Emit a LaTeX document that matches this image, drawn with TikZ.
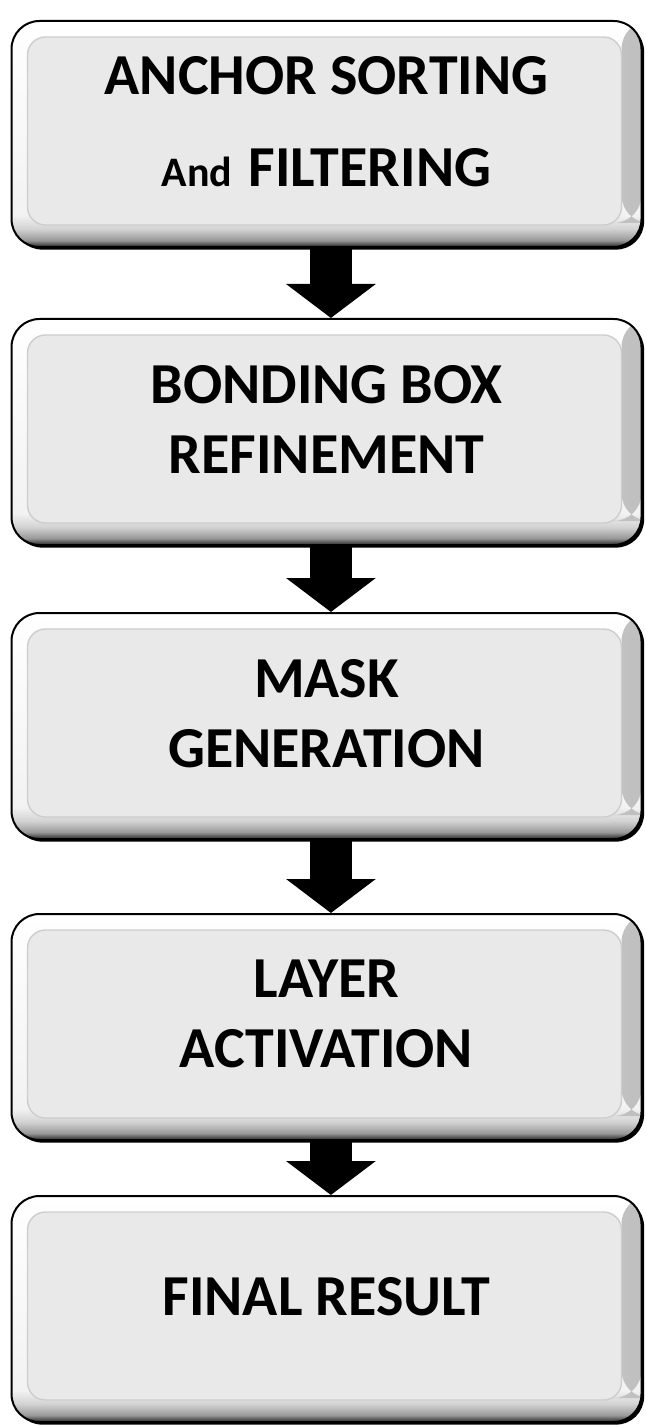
\documentclass[tikz,border=0pt]{standalone}
\usepackage{fontspec}
\setmainfont{Carlito}
\usetikzlibrary{arrows.meta,shadows}

\definecolor{panel}{RGB}{233,233,233}
\definecolor{rim}{RGB}{205,205,205}
\pgfdeclareverticalshading{bevel}{100bp}{color(0bp)=(black);
    color(25bp)=(black!85); color(26.5bp)=(gray!80); color(29bp)=(gray!35);
    color(32bp)=(gray!10); color(75bp)=(white); color(100bp)=(white)}

\begin{document}
\begin{tikzpicture}[
    x = 0.5pt, y = -0.5pt,
    stage/.style = {rounded corners=14pt, minimum width=315pt, minimum height=113pt,
        draw=black, line width=1pt, shade, shading=bevel, align=center,
        inner sep=0pt, text depth=13pt, font=\bfseries\fontsize{29}{35}\selectfont,
        drop shadow={shadow xshift=1.3pt, shadow yshift=-1.3pt, fill=black, opacity=1},
        path picture={
            \shade[left color=white, right color=gray!50]
                ([xshift=-10pt]path picture bounding box.north east) rectangle
                ([yshift=12pt]path picture bounding box.south east);
            \draw[rim, line width=0.7pt, fill=panel, rounded corners=9pt]
                ([xshift=8pt, yshift=-8pt]path picture bounding box.north west) rectangle
                ([xshift=-10pt, yshift=11pt]path picture bounding box.south east);}},
    flow/.style = {line width=21pt, -{Triangle[width=44pt, length=17pt]}}]

\useasboundingbox (0,0) rectangle (645,1427);

\node[stage] (anchor) at (326.5,134) {ANCHOR SORTING\\[11pt]{\fontsize{21}{24}\selectfont And}\hspace{8pt}FILTERING};
\node[stage] (bbox) at (326.5,432) {BONDING BOX\\REFINEMENT};
\node[stage] (mask) at (326.5,726) {MASK\\GENERATION};
\node[stage] (layer) at (326.5,1027) {LAYER\\ACTIVATION};
\node[stage] (result) at (326.5,1309) {FINAL RESULT};

\draw[flow] ([xshift=2.2pt]anchor.south) -- ([xshift=2.2pt]bbox.north);
\draw[flow] ([xshift=2.2pt]bbox.south) -- ([xshift=2.2pt]mask.north);
\draw[flow] ([xshift=2.2pt]mask.south) -- ([xshift=2.2pt]layer.north);
\draw[flow] ([xshift=2.2pt]layer.south) -- ([xshift=2.2pt]result.north);
\end{tikzpicture}
\end{document}
